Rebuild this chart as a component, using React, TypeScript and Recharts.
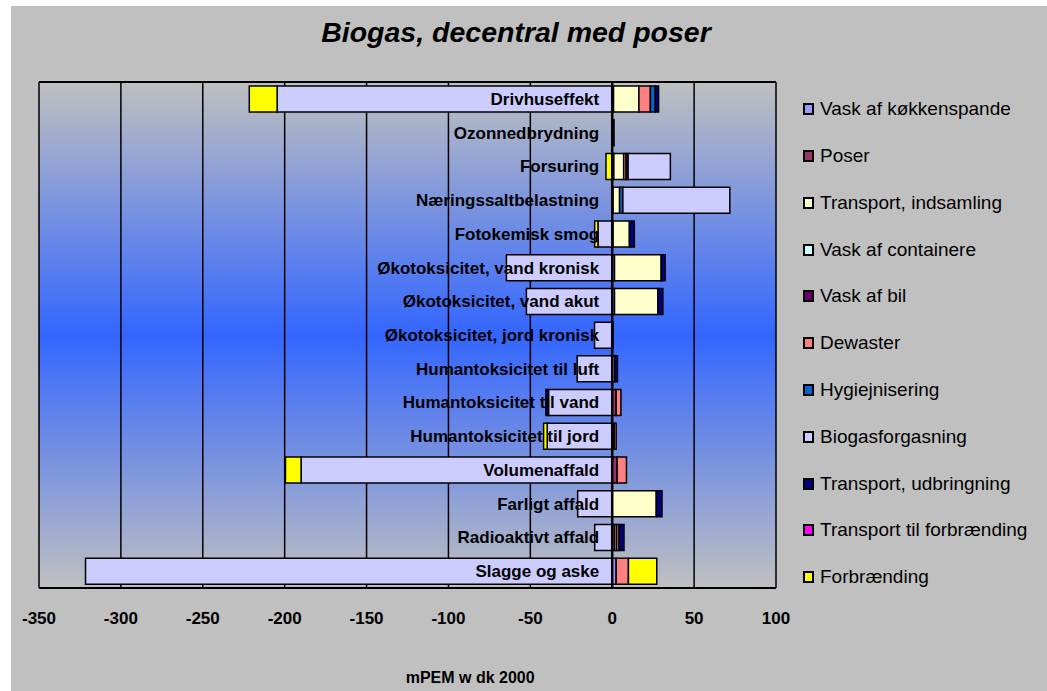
import React from 'react'
import { BarChart, Bar, XAxis, YAxis, CartesianGrid, ReferenceLine, ReferenceDot, Legend } from 'recharts'

const FONT = '"Liberation Sans", Arial, sans-serif'

const categories = [
  'Drivhuseffekt',
  'Ozonnedbrydning',
  'Forsuring',
  'Næringssaltbelastning',
  'Fotokemisk smog',
  'Økotoksicitet, vand kronisk',
  'Økotoksicitet, vand akut',
  'Økotoksicitet, jord kronisk',
  'Humantoksicitet til luft',
  'Humantoksicitet til vand',
  'Humantoksicitet til jord',
  'Volumenaffald',
  'Farligt affald',
  'Radioaktivt affald',
  'Slagge og aske',
]

const seriesNames = [
  'Vask af køkkenspande',
  'Poser',
  'Transport, indsamling',
  'Vask af containere',
  'Vask af bil',
  'Dewaster',
  'Hygiejnisering',
  'Biogasforgasning',
  'Transport, udbringning',
  'Transport til forbrænding',
  'Forbrænding',
]

const seriesColors = ['#9999FF', '#993366', '#FFFFCC', '#CCFFFF', '#660066', '#FF8080', '#0066CC', '#CCCCFF', '#000080', '#FF00FF', '#FFFF00']

// mPEM per category
const vaskKoekkenspande = [0.8, 0.3, 1, 0.5, 0.5, 1.4, 1.4, 0.5, 0, 0, 0, 0, 0, 0, 2.4]
const poser = [0, 0, 0, 0, 0, 0, 0, 0, 0, 2.4, 1.2, 3, 0, 1.5, 0]
const transportIndsamling = [15.5, 0, 6, 4, 10, 28.5, 26.5, 0, 1.4, 0, 0, 0, 26.9, 1.2, 0]
const vaskContainere = [0, 0, 0, 0, 0, 0, 0, 0, 0, 0, 0, 0, 0, 0, 0]
const vaskBil = [0, 0, 0, 0, 0, 0, 0, 0, 0, 0, 0, 0, 0, 0, 0]
const dewaster = [7, 0, 1.5, 0, 0, 0, 0, 0, 0, 2.9, 1.2, 5.7, 0, 1.5, 7.5]
const hygiejnisering = [3, 0, 1.2, 2, 0, 0, 0, 0, 0, 0, 0, 0, 0, 0, 0]
const biogasforgasning = [-204.6, 0, 25.8, 65.3, -8.7, -64.6, -52.4, -10.8, -21.4, -38.9, -39.7, -190, -21.1, -10.7, -321.6]
const transportUdbringning = [2, 0.8, 0, 0, 3, 2.4, 3, 0, 1.8, -1.6, 0, 0, 3.5, 3, 0]
const transportForbraending = [0, 0, 0, 0, 0, 0, 0, 0, 0, 0, 0, 0, 0, 0, 0]
const forbraending = [-17, 0, -3.8, 0, -2, 0, 0, 0, 0, 0, -2.2, -9.5, 0, 0, 17.3]

const seriesValues = [
  vaskKoekkenspande,
  poser,
  transportIndsamling,
  vaskContainere,
  vaskBil,
  dewaster,
  hygiejnisering,
  biogasforgasning,
  transportUdbringning,
  transportForbraending,
  forbraending,
]

const xTicks = [-350, -300, -250, -200, -150, -100, -50, 0, 50, 100]

const data = categories.map((name, i) => {
  const row: Record<string, number | string> = { name }
  seriesValues.forEach((vals, s) => {
    row['s' + s] = vals[i]
  })
  return row
})

function categoryLabel(text: string) {
  return (props: any) => {
    const vb = props.viewBox
    const cx = vb.x + vb.width / 2
    const cy = vb.y + vb.height / 2
    return (
      <text x={cx - 13} y={cy} dy={6} textAnchor="end" fontFamily={FONT} fontSize={17} fontWeight={700} fill="#000">
        {text}
      </text>
    )
  }
}

function LegendBox() {
  return (
    <div style={{ fontFamily: FONT, fontSize: 19, color: '#000' }}>
      {seriesNames.map((n, s) => (
        <div key={n} style={{ height: 46.77, display: 'flex', alignItems: 'center', whiteSpace: 'nowrap' }}>
          <span style={{ display: 'inline-block', width: 7, height: 8, border: '2px solid #000', background: seriesColors[s], marginRight: 6 }} />
          <span>{n}</span>
        </div>
      ))}
    </div>
  )
}

function AxisTitle(props: any) {
  const vb = props.viewBox
  return (
    <text x={vb.x + vb.width * 0.585} y={vb.y + vb.height - 5} textAnchor="middle" fontFamily={FONT} fontSize={16} fontWeight={700} fill="#000">
      mPEM w dk 2000
    </text>
  )
}

export default function App() {
  return (
    <div style={{ position: 'absolute', left: 11, top: 6, width: 1036, height: 685, background: '#C0C0C0', overflow: 'hidden' }}>
      <div
        style={{
          position: 'absolute',
          left: 505,
          top: 12,
          transform: 'translateX(-50%)',
          whiteSpace: 'nowrap',
          fontFamily: FONT,
          fontSize: 28.5,
          lineHeight: '28px',
          fontWeight: 700,
          fontStyle: 'italic',
          color: '#000',
        }}
      >
        Biogas, decentral med poser
      </div>
      <BarChart
        width={1036}
        height={685}
        data={data}
        layout="vertical"
        stackOffset="sign"
        barSize={26}
        margin={{ top: 70, right: 271, bottom: 3, left: 28 }}
      >
        <defs>
          <linearGradient id="plotBg" x1="0" y1="0" x2="0" y2="1">
            <stop offset="0%" stopColor="#C0C0C0" />
            <stop offset="50%" stopColor="#3366FF" />
            <stop offset="100%" stopColor="#C0C0C0" />
          </linearGradient>
        </defs>
        <CartesianGrid horizontal={false} stroke="#000" strokeWidth={1.5} fill="url(#plotBg)" fillOpacity={1} />
        <XAxis
          type="number"
          domain={[-350, 100]}
          ticks={xTicks}
          allowDataOverflow
          height={100}
          axisLine={{ stroke: '#000', strokeWidth: 2 }}
          tickLine={false}
          tickSize={0}
          tickMargin={24}
          tick={{ fill: '#000', fontSize: 17, fontWeight: 700, fontFamily: FONT }}
          label={{ content: AxisTitle }}
        />
        <XAxis
          xAxisId="top"
          orientation="top"
          type="number"
          domain={[-350, 100]}
          ticks={xTicks}
          allowDataOverflow
          height={6}
          axisLine={{ stroke: '#000', strokeWidth: 2 }}
          tickLine={{ stroke: '#000', strokeWidth: 2 }}
          tickSize={5}
          tick={false}
        />
        <YAxis type="category" dataKey="name" hide />
        <Legend
          layout="vertical"
          align="center"
          verticalAlign="middle"
          wrapperStyle={{ left: 792, top: 80, width: 240 }}
          content={LegendBox}
        />
        {seriesNames.map((n, s) => (
          <Bar
            key={n}
            dataKey={'s' + s}
            name={n}
            stackId="s"
            fill={seriesColors[s]}
            stroke="#000"
            strokeWidth={1.5}
            isAnimationActive={false}
          />
        ))}
        <ReferenceLine x={0} stroke="#000" strokeWidth={2.5} />
        {categories.map((c) => (
          <ReferenceDot key={c} x={0} y={c} r={1} fill="none" stroke="none" label={{ content: categoryLabel(c) }} />
        ))}
      </BarChart>
    </div>
  )
}
